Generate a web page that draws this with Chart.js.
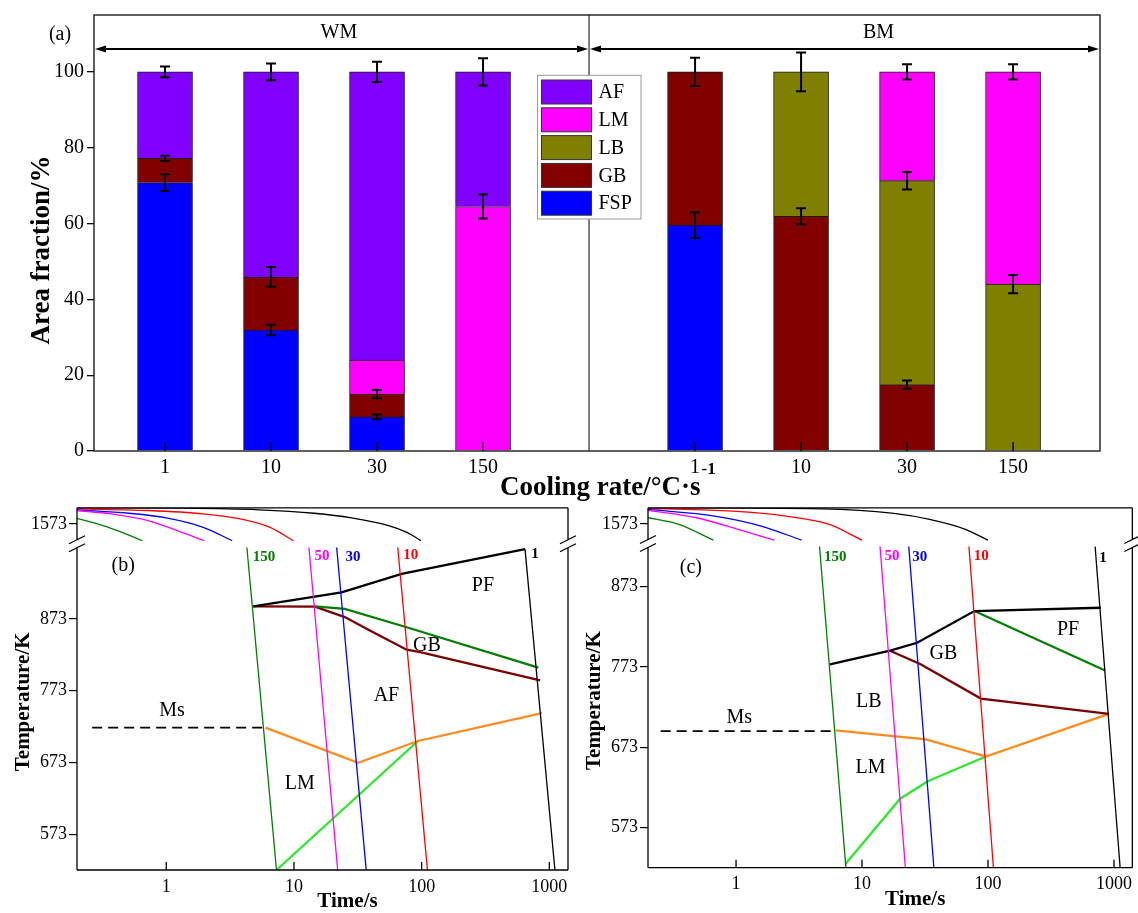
<!DOCTYPE html>
<html>
<head>
<meta charset="utf-8">
<script src="https://cdn.jsdelivr.net/npm/chart.js@4.4.1/dist/chart.umd.min.js"></script>
<style>
  html, body { margin: 0; padding: 0; background: #fff; }
  body { width: 1138px; height: 913px; position: relative; overflow: hidden; }
  canvas { position: absolute; }
  #barCanvas { left: 0; top: 0; }
  #cctWeld { left: 0; top: 495px; }
  #cctBase { left: 575px; top: 495px; }
</style>
</head>
<body>
<canvas id="barCanvas" width="1138" height="505"></canvas>
<canvas id="cctWeld" width="582" height="418"></canvas>
<canvas id="cctBase" width="563" height="418"></canvas>
<script>
const serif = "'Liberation Serif', 'Times New Roman', serif";
Chart.defaults.font.family = serif;
Chart.defaults.color = '#000';

// ---------- (a) area fraction of each phase ----------
// WM in slots 1-4, BM in slots 6-9, slot 5 is the WM/BM divider
const rateLabels = ['1', '10', '30', '150', '1', '10', '30', '150'];
const barSlots = [1, 2, 3, 4, 6, 7, 8, 9];
const fractionTicks = [0, 20, 40, 60, 80, 100];

const fspValues = [70.8, 31.9, 9.0, null, 59.6, null, null, null];
const gbValues = [6.4, 14.0, 6.0, null, 40.4, 61.9, 17.5, null];
const lbValues = [null, null, null, null, null, 38.1, 53.8, 44.0];
const lmValues = [null, null, 9.0, 64.5, null, null, 28.7, 56.0];
const afValues = [22.8, 54.1, 76.0, 35.5, null, null, null, null];

const fspErr = [2.2, 1.4, 0.6, 0, 3.4, 0, 0, 0];
const gbErr = [0.7, 2.6, 1.1, 0, 3.7, 2.1, 1.1, 0];
const lbErr = [0, 0, 0, 0, 0, 5.1, 2.3, 2.4];
const lmErr = [0, 0, 0, 3.2, 0, 0, 2.0, 2.0];
const afErr = [1.4, 2.2, 2.7, 3.6, 0, 0, 0, 0];

// ---------- (b), (c) CCT diagrams, points are [time s, temperature K] ----------
const timeTicks = [1, 10, 100, 1000];
const tempTicksHigh = [1573];
const tempTicksLow = [573, 673, 773, 873];
const rateNames = ['150', '50', '30', '10', '1'];

// (b) weld metal
const wmHot150 = [[0.2, 1582.5], [0.32, 1570.3], [0.45, 1559], [0.65, 1545]];
const wmHot50 = [[0.2, 1595.5], [0.37, 1589.9], [0.72, 1578.7], [1.22, 1561.8], [1.99, 1545]];
const wmHot30 = [[0.2, 1596.6], [0.51, 1590.9], [1.0, 1583.2], [1.95, 1567.4], [3.28, 1545]];
const wmHot10 = [[0.2, 1598.3], [0.72, 1595.5], [1.95, 1589.9], [3.8, 1581.5], [6.5, 1567.4], [9.9, 1545]];
const wmHot1 = [[0.2, 1600], [1.4, 1599.3], [5.3, 1596.6], [14.4, 1590.9], [28.2, 1583.2], [55, 1570.3], [76.7, 1559], [98.8, 1545]];

const wmCool150 = [[4.28, 972.4], [7.3, 523.4]];
const wmCool50 = [[13.1, 972.4], [22.0, 523.4]];
const wmCool30 = [[21.6, 972.4], [36.8, 523.4]];
const wmCool10 = [[65, 972.4], [111, 523.4]];
const wmCool1 = [[645, 970], [1106, 523.4]];

const wmPfStart = [[4.8, 890.5], [23.6, 910], [69.7, 935.5], [645, 970]];
const wmGbStart = [[14.6, 890.5], [25, 886.9], [76.3, 861.3], [820, 805]];
const wmAfStart = [[4.8, 890.5], [14.6, 890], [25, 875.5], [39.3, 856.8], [76.3, 830], [97.3, 826.8], [847, 787.3]];
const wmMsLine = [[5.98, 721.6], [31.8, 672.6], [93.5, 703], [877, 741.9]];
const wmLmLine = [[7.3, 523.4], [93.5, 703]];
const wmMsDash = [[0.263, 721.6], [5.98, 721.6]];

// (c) base metal
const bmHot150 = [[0.2, 1583.3], [0.351, 1572.2], [0.662, 1545.6]];
const bmHot50 = [[0.2, 1595.6], [0.487, 1583.3], [1.14, 1561.1], [2.02, 1545.6]];
const bmHot30 = [[0.2, 1597.2], [0.675, 1586.1], [1.58, 1569.4], [3.32, 1545.6]];
const bmHot10 = [[0.2, 1598.9], [0.94, 1594.4], [2.5, 1586.1], [5.5, 1572.2], [10, 1545.6]];
const bmHot1 = [[0.2, 1600], [4.8, 1598.3], [17.9, 1590.6], [34.4, 1580.6], [66.2, 1563.9], [100, 1545.6]];

const bmCool150 = [[4.6, 922.8], [7.45, 523]];
const bmCool50 = [[13.9, 922.8], [22.1, 523]];
const bmCool30 = [[23.5, 922.8], [37.2, 523]];
const bmCool10 = [[70.6, 922.8], [110.5, 523]];
const bmCool1 = [[709, 922.8], [1120, 523]];

const bmPfStart = [[5.56, 776.2], [16.7, 793.1], [27.4, 803], [78, 842.5], [787, 846.6]];
const bmPfEnd = [[78, 842.5], [851, 768.4]];
const bmGbEnd = [[16.7, 793.1], [29.2, 776.2], [87.8, 733.5], [910, 714.5]];
const bmMsLine = [[6.18, 694], [32.2, 682.9], [96.2, 661.4], [910, 714.5]];
const bmLmLine = [[7.38, 527.8], [20.1, 609], [33.3, 630.7], [96.2, 661.4]];
const bmMsDash = [[0.252, 693.1], [6.18, 693.1]];

// ---------- styles ----------
const phaseNames = ['FSP', 'GB', 'LB', 'LM', 'AF'];
const phaseColors = ['#0000ff', '#800000', '#808000', '#ff00ff', '#8000ff'];
const rateColors = ['#008000', '#ff00ff', '#0000ff', '#ff0000', '#000000'];
const frameColor = '#2b2b2b';

// ================= (a) =================
const phaseValues = [fspValues, gbValues, lbValues, lmValues, afValues];
const phaseErrors = [fspErr, gbErr, lbErr, lmErr, afErr];

const barDatasets = phaseNames.map((name, i) => ({
  label: name,
  data: phaseValues[i].map((v, j) => ({ x: barSlots[j], y: v })),
  backgroundColor: phaseColors[i],
  borderColor: '#1a1a1a',
  borderWidth: 1,
  barThickness: 55,
  errors: phaseErrors[i],
}));

const errorBars = {
  id: 'errorBars',
  afterDatasetsDraw(chart) {
    const { ctx, scales: { x, y } } = chart;
    const stackTop = barSlots.map(() => 0);
    ctx.save();
    ctx.strokeStyle = '#000';
    ctx.lineWidth = 2;
    chart.data.datasets.forEach((ds) => {
      ds.data.forEach((pt, j) => {
        if (pt.y == null) return;
        stackTop[j] += pt.y;
        const err = ds.errors[j];
        if (!err) return;
        const px = x.getPixelForValue(pt.x);
        const hi = y.getPixelForValue(stackTop[j] + err);
        const lo = y.getPixelForValue(stackTop[j] - err);
        ctx.beginPath();
        ctx.moveTo(px, hi); ctx.lineTo(px, lo);
        ctx.moveTo(px - 5, hi); ctx.lineTo(px + 5, hi);
        ctx.moveTo(px - 5, lo); ctx.lineTo(px + 5, lo);
        ctx.stroke();
      });
    });
    ctx.restore();
  },
};

function drawArrow(ctx, x1, x2, y) {
  ctx.beginPath();
  ctx.moveTo(x1 + 6, y); ctx.lineTo(x2 - 6, y);
  ctx.stroke();
  ctx.beginPath();
  ctx.moveTo(x1 + 1, y); ctx.lineTo(x1 + 12, y - 3.5); ctx.lineTo(x1 + 12, y + 3.5);
  ctx.closePath();
  ctx.moveTo(x2 - 1, y); ctx.lineTo(x2 - 12, y - 3.5); ctx.lineTo(x2 - 12, y + 3.5);
  ctx.closePath();
  ctx.fill();
}

const barDecor = {
  id: 'barDecor',
  afterDraw(chart) {
    const { ctx, chartArea: a, scales: { x, y } } = chart;
    const divX = x.getPixelForValue(5);
    ctx.save();

    ctx.strokeStyle = frameColor;
    ctx.lineWidth = 1.5;
    ctx.strokeRect(a.left, a.top, a.width, a.height);
    ctx.lineWidth = 1.2;
    ctx.beginPath();
    ctx.moveTo(divX, a.top); ctx.lineTo(divX, a.bottom);
    ctx.stroke();

    // inward ticks under each bar
    ctx.strokeStyle = '#000';
    ctx.lineWidth = 1.5;
    ctx.beginPath();
    barSlots.forEach((s) => {
      const px = x.getPixelForValue(s);
      ctx.moveTo(px, a.bottom); ctx.lineTo(px, a.bottom - 9);
    });
    ctx.stroke();

    // WM / BM spans
    ctx.fillStyle = '#000';
    ctx.lineWidth = 2;
    const ay = y.getPixelForValue(106);
    drawArrow(ctx, a.left, divX, ay);
    drawArrow(ctx, divX, a.right, ay);
    ctx.font = `20px ${serif}`;
    ctx.textAlign = 'center';
    ctx.textBaseline = 'middle';
    ctx.fillText('WM', x.getPixelForValue(2.64), y.getPixelForValue(110.2));
    ctx.fillText('BM', x.getPixelForValue(7.73), y.getPixelForValue(110.2));
    ctx.fillText('(a)', a.left - 34, 35);

    // legend, top item is the top of the stack
    const lx = a.left + 443.5, ly = 75.3;
    ctx.fillStyle = '#fff';
    ctx.fillRect(lx, ly, 103.5, 143.7);
    ctx.strokeStyle = '#999';
    ctx.lineWidth = 1;
    ctx.strokeRect(lx, ly, 103.5, 143.7);
    chart.data.datasets.slice().reverse().forEach((ds, i) => {
      const sy = ly + 4.7 + i * 27.8;
      ctx.fillStyle = ds.backgroundColor;
      ctx.fillRect(lx + 4, sy, 50, 24);
      ctx.strokeStyle = '#333';
      ctx.strokeRect(lx + 4, sy, 50, 24);
      ctx.fillStyle = '#000';
      ctx.textAlign = 'left';
      ctx.fillText(ds.label, lx + 61, sy + 13);
    });

    // axis titles
    ctx.font = `bold 27px ${serif}`;
    ctx.textAlign = 'center';
    ctx.save();
    ctx.translate(42, 250);
    ctx.rotate(-Math.PI / 2);
    ctx.fillText('Area fraction/%', 0, 0);
    ctx.restore();

    ctx.textAlign = 'left';
    ctx.textBaseline = 'alphabetic';
    const main = 'Cooling rate/\u00B0C\u00B7s';
    ctx.fillText(main, 500, 495);
    const w = ctx.measureText(main).width;
    ctx.font = `bold 17px ${serif}`;
    ctx.fillText('-1', 500 + w + 1, 474);
    ctx.restore();
  },
};

new Chart(document.getElementById('barCanvas'), {
  type: 'bar',
  data: { datasets: barDatasets },
  options: {
    responsive: false,
    animation: false,
    events: [],
    layout: { padding: { left: 0, top: 14, right: 38, bottom: 0 } },
    plugins: { legend: { display: false }, tooltip: { enabled: false } },
    scales: {
      x: {
        type: 'linear',
        stacked: true,
        min: 0.33,
        max: 9.82,
        bounds: 'data',
        offset: false,
        grid: { display: false, drawTicks: false },
        border: { display: false },
        ticks: {
          font: { size: 20 },
          padding: 5,
          autoSkip: false,
          maxRotation: 0,
          callback: (v, i) => rateLabels[i],
        },
        afterBuildTicks: (s) => { s.ticks = barSlots.map((v) => ({ value: v })); },
        afterFit: (s) => { s.height = 54; },
      },
      y: {
        stacked: true,
        min: 0,
        max: 115,
        bounds: 'data',
        grid: { drawOnChartArea: false, tickLength: 7, color: '#000', lineWidth: 1.3 },
        border: { display: false },
        ticks: { font: { size: 20 }, padding: 3, callback: (v) => String(v) },
        afterBuildTicks: (s) => { s.ticks = fractionTicks.map((v) => ({ value: v })); },
        afterFit: (s) => { s.width = 94; },
      },
    },
  },
  plugins: [errorBars, barDecor],
});

// ================= (b), (c) =================
function lineSet(pts, axis, color, width, smooth) {
  return {
    data: pts.map(([t, T]) => ({ x: t, y: T })),
    yAxisID: axis,
    borderColor: color,
    borderWidth: width,
    pointRadius: 0,
    fill: false,
    tension: 0,
    cubicInterpolationMode: smooth ? 'monotone' : 'default',
  };
}

function cctDecor(spec) {
  return {
    id: 'cctDecor',
    afterDraw(chart) {
      const { ctx, chartArea: a, scales: { x, yBot } } = chart;
      const by = yBot.top;
      ctx.save();
      ctx.strokeStyle = '#000';
      ctx.lineWidth = 1.3;
      ctx.beginPath();
      ctx.moveTo(a.left, a.top); ctx.lineTo(a.right, a.top);
      ctx.moveTo(a.left, a.bottom); ctx.lineTo(a.right, a.bottom);
      [a.left, a.right].forEach((ex) => {
        ctx.moveTo(ex, a.top); ctx.lineTo(ex, by - 4);
        ctx.moveTo(ex, by + 4); ctx.lineTo(ex, a.bottom);
        ctx.moveTo(ex - 8, by); ctx.lineTo(ex + 8, by - 8);
        ctx.moveTo(ex - 8, by + 8); ctx.lineTo(ex + 8, by);
      });
      timeTicks.forEach((t) => {
        const px = x.getPixelForValue(t);
        ctx.moveTo(px, a.bottom); ctx.lineTo(px, a.bottom - 8);
      });
      ctx.stroke();

      ctx.textAlign = 'center';
      ctx.textBaseline = 'middle';
      ctx.fillStyle = '#000';
      ctx.font = `20px ${serif}`;
      spec.regionText.forEach(([txt, t, T]) => {
        ctx.fillText(txt, x.getPixelForValue(t), yBot.getPixelForValue(T));
      });
      ctx.font = `bold 15px ${serif}`;
      spec.rateText.forEach(([t, T], i) => {
        ctx.fillStyle = rateColors[i];
        ctx.fillText(rateNames[i], x.getPixelForValue(t), yBot.getPixelForValue(T));
      });

      ctx.fillStyle = '#000';
      ctx.font = `bold 21px ${serif}`;
      ctx.fillText('Time/s', (a.left + a.right) / 2 + 25, a.bottom + 32);
      ctx.save();
      ctx.translate(a.left - 53, (by + a.bottom) / 2 - 5);
      ctx.rotate(-Math.PI / 2);
      ctx.fillText('Temperature/K', 0, 0);
      ctx.restore();
      ctx.restore();
    },
  };
}

function cctChart(canvasId, spec) {
  const datasets = [];
  spec.hot.forEach((pts, i) => datasets.push(lineSet(pts, 'yTop', rateColors[i], 1.3, true)));
  spec.cool.forEach((pts, i) => datasets.push(lineSet(pts, 'yBot', rateColors[i], 1.3, false)));
  spec.bounds.forEach(([pts, color]) => datasets.push(lineSet(pts, 'yBot', color, 2.3, false)));
  datasets.push({ ...lineSet(spec.msDash, 'yBot', '#000', 1.6, false), borderDash: [10, 6] });

  const yCommon = {
    type: 'linear',
    position: 'left',
    stack: 'temp',
    bounds: 'data',
    grid: { drawOnChartArea: false, tickLength: 8, color: '#000', lineWidth: 1.2 },
    border: { display: false },
    ticks: { font: { size: 18 }, padding: 2, callback: (v) => String(v) },
    afterFit: (s) => { s.width = spec.yWidth; },
  };

  new Chart(document.getElementById(canvasId), {
    type: 'line',
    data: { datasets },
    options: {
      responsive: false,
      animation: false,
      events: [],
      layout: { padding: spec.padding },
      plugins: { legend: { display: false }, tooltip: { enabled: false } },
      scales: {
        x: {
          type: 'logarithmic',
          min: 0.2,
          max: 1400,
          bounds: 'data',
          grid: { display: false, drawTicks: false },
          border: { display: false },
          ticks: { font: { size: 18 }, padding: 6, autoSkip: false, maxRotation: 0, callback: (v) => String(v) },
          afterBuildTicks: (s) => { s.ticks = timeTicks.map((v) => ({ value: v })); },
          afterFit: (s) => { s.height = spec.xHeight; },
        },
        yBot: {
          ...yCommon,
          weight: 0,
          stackWeight: spec.lowWeight,
          min: spec.lowMin,
          max: spec.lowMax,
          afterBuildTicks: (s) => { s.ticks = tempTicksLow.map((v) => ({ value: v })); },
        },
        yTop: {
          ...yCommon,
          weight: 1,
          stackWeight: spec.highWeight,
          min: 1540,
          max: 1600,
          afterBuildTicks: (s) => { s.ticks = tempTicksHigh.map((v) => ({ value: v })); },
        },
      },
    },
    plugins: [cctDecor(spec)],
  });
}

cctChart('cctWeld', {
  hot: [wmHot150, wmHot50, wmHot30, wmHot10, wmHot1],
  cool: [wmCool150, wmCool50, wmCool30, wmCool10, wmCool1],
  bounds: [
    [wmPfStart, '#000000'],
    [wmGbStart, '#008000'],
    [wmAfStart, '#7a0000'],
    [wmMsLine, '#ff8c1a'],
    [wmLmLine, '#2ee82e'],
  ],
  msDash: wmMsDash,
  padding: { left: 0, top: 12, right: 14, bottom: 0 },
  yWidth: 77,
  xHeight: 43,
  highWeight: 36,
  lowWeight: 327,
  lowMin: 523.4,
  lowMax: 977.6,
  regionText: [['(b)', 0.46, 947], ['PF', 302, 919], ['GB', 110, 836], ['AF', 53, 766.5], ['Ms', 1.11, 745.6], ['LM', 11.1, 642.9]],
  rateText: [[5.82, 959.5], [16.6, 961], [29, 958.6], [82, 962], [771, 963]],
});

cctChart('cctBase', {
  hot: [bmHot150, bmHot50, bmHot30, bmHot10, bmHot1],
  cool: [bmCool150, bmCool50, bmCool30, bmCool10, bmCool1],
  bounds: [
    [bmPfStart, '#000000'],
    [bmPfEnd, '#008000'],
    [bmGbEnd, '#7a0000'],
    [bmMsLine, '#ff8c1a'],
    [bmLmLine, '#2ee82e'],
  ],
  msDash: bmMsDash,
  padding: { left: 0, top: 10, right: 1.5, bottom: 0 },
  yWidth: 73,
  xHeight: 45.3,
  highWeight: 36,
  lowWeight: 326.7,
  lowMin: 523.1,
  lowMax: 926.5,
  regionText: [['(c)', 0.438, 896.8], ['PF', 432, 818.7], ['GB', 44.3, 789.8], ['LB', 11.3, 730.2], ['Ms', 1.06, 709.5], ['LM', 11.7, 647.8]],
  rateText: [[6.14, 910], [17.3, 911.3], [28.7, 910], [88.3, 911.3], [820, 908]],
});
</script>
</body>
</html>
